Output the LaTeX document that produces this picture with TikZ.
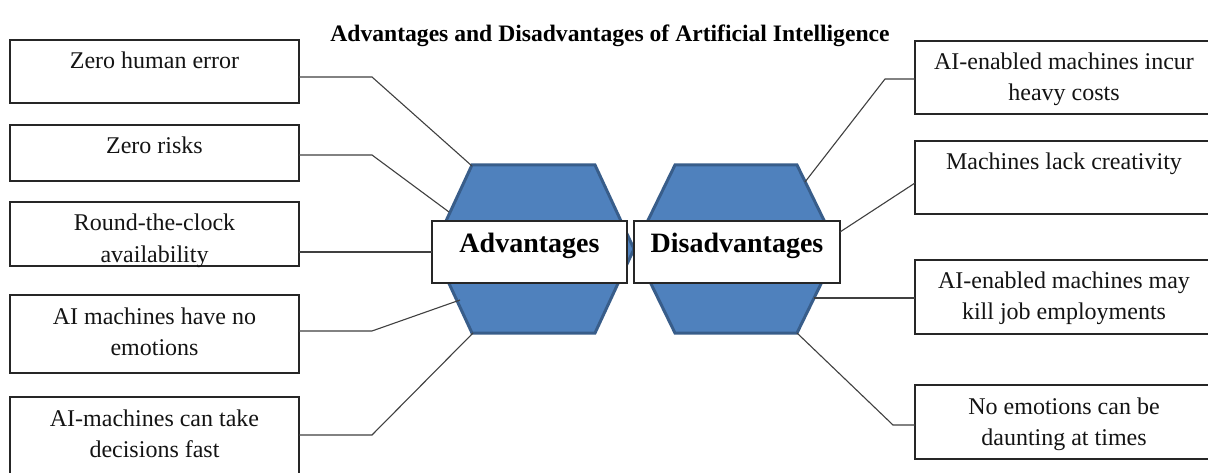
\documentclass[tikz,border=0pt]{standalone}
\usepackage{fontspec}
\setmainfont{Liberation Serif}
\usetikzlibrary{calc}
\definecolor{hexfill}{HTML}{4F81BD}
\definecolor{hexline}{HTML}{385D8A}
\definecolor{connc}{HTML}{404040}
\newcommand\bxfont{\fontsize{24}{31}\selectfont}
\newcommand\ttlfont{\fontsize{23.6}{28}\selectfont\bfseries}
\newcommand\hxfont{\fontsize{28}{34}\selectfont\bfseries}
\newcommand\bxtext[3]{\parbox[c][#2][t]{#1}{\centering\rule{0pt}{29pt}#3}}
\tikzset{
  sbox/.style={draw=black!85, line width=1.3pt, inner sep=0pt, outer sep=0pt,
    anchor=north west, fill=white, font=\bxfont, text=black!92},
  cbox/.style={draw=black!85, line width=1.3pt, inner sep=0pt, outer sep=0pt,
    anchor=north west, fill=white, font=\hxfont, text=black},
  conn/.style={draw=connc, line width=1.1pt, line join=miter},
  hexa/.style={fill=hexfill, draw=hexline, line width=3pt, line join=miter},
  ttl/.style={font=\ttlfont, anchor=base, inner sep=0pt, text=black}
}
\begin{document}
\begin{tikzpicture}[x=1pt, y=-1pt]
\useasboundingbox[fill=white] (0,0) rectangle (1208,473);

% title
\node[ttl] (title) at (610,42) {Advantages and Disadvantages of Artificial Intelligence};

% hexagons
\draw[hexa] (472,165) -- (595,165) -- (634,249) -- (595,333) -- (472,333) -- (433,249) -- cycle;
\draw[hexa] (675,165) -- (797,165) -- (838,249) -- (797,333) -- (675,333) -- (634,249) -- cycle;

% left boxes
\node[sbox] (lb1) at (10,40)  {\bxtext{289pt}{63pt}{Zero human error}};
\node[sbox] (lb2) at (10,125) {\bxtext{289pt}{56pt}{Zero risks}};
\node[sbox] (lb3) at (10,202) {\bxtext{289pt}{64pt}{Round-the-clock\\availability}};
\node[sbox] (lb4) at (10,295) {\bxtext{289pt}{78pt}{AI machines have no\\emotions}};
\node[sbox] (lb5) at (10,397) {\bxtext{289pt}{80pt}{AI-machines can take\\decisions fast}};

% right boxes
\node[sbox] (rb1) at (915,41)  {\bxtext{298pt}{73pt}{AI-enabled machines incur\\heavy costs}};
\node[sbox] (rb2) at (915,141) {\bxtext{298pt}{73pt}{Machines lack creativity}};
\node[sbox] (rb3) at (915,260) {\bxtext{298pt}{74pt}{AI-enabled machines may\\kill job employments}};
\node[sbox] (rb4) at (915,385) {\bxtext{298pt}{74pt}{No emotions can be\\daunting at times}};

% connector points
\coordinate (k1) at (372,77);  \coordinate (a1) at (472,166);
\coordinate (k2) at (372,155); \coordinate (a2) at (449,212);
\coordinate (k4) at (372,331); \coordinate (a4) at (460,300);
\coordinate (k5) at (372,435); \coordinate (a5) at (473,333);
\coordinate (m1) at (885,79);  \coordinate (b1) at (805,182);
\coordinate (m2) at (915,183); \coordinate (b2) at (840,232);
\coordinate (b3) at (814,298);
\coordinate (m4) at (893,425); \coordinate (b4) at (797,333);

% centre boxes
\node[cbox] (adv) at (432,221) {\parbox[c][62pt][t]{195pt}{\centering\rule{0pt}{32pt}Advantages}};
\node[cbox] (dis) at (634,221) {\parbox[c][62pt][t]{206pt}{\centering\rule{0pt}{32pt}Disadvantages}};

% connectors
\draw[conn] (lb1.east |- k1) -- (k1) -- (a1);
\draw[conn] (lb2.east |- k2) -- (k2) -- (a2);
\draw[conn] (lb3.east |- adv.west) -- (adv.west);
\draw[conn] (lb4.east |- k4) -- (k4) -- (a4);
\draw[conn] (lb5.east |- k5) -- (k5) -- (a5);
\draw[conn] (rb1.west |- m1) -- (m1) -- (b1);
\draw[conn] (rb2.west |- m2) -- (b2);
\draw[conn] (rb3.west |- b3) -- (b3);
\draw[conn] (rb4.west |- m4) -- (m4) -- (b4);
\end{tikzpicture}
\end{document}
